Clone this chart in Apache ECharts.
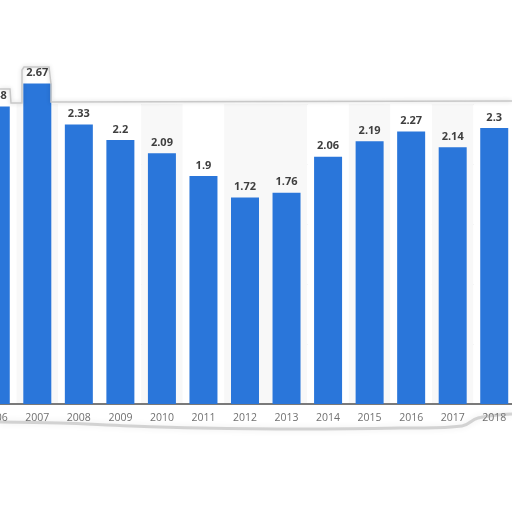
<!DOCTYPE html>
<html>
<head>
<meta charset="utf-8">
<script src="https://cdn.jsdelivr.net/npm/echarts@6/dist/echarts.min.js"></script>
<style>
html,body{margin:0;padding:0;background:#fff;overflow:hidden;width:512px;height:512px;position:relative;}
#chart{position:absolute;left:-25px;top:0;width:540px;height:512px;}
</style>
</head>
<body>
<div id="chart"></div>
<script>
const years = ['2006','2007','2008','2009','2010','2011','2012','2013','2014','2015','2016','2017','2018'];
const values = [2.48, 2.67, 2.33, 2.2, 2.09, 1.9, 1.72, 1.76, 2.06, 2.19, 2.27, 2.14, 2.3];
const yTicks = [0, 0.5, 1, 1.5, 2, 2.5];

const W = '#ffffff', S = '#f8f8f8';
const chart = echarts.init(document.getElementById('chart'));
const X0 = 25; // page offset of the chart container
chart.setOption({
  backgroundColor: '#ffffff',
  animation: false,
  grid: { left: 0, right: 0, top: 104, bottom: 108, containLabel: false },
  xAxis: {
    type: 'category',
    data: years,
    axisLine: { show: true, lineStyle: { color: '#7a7a7a', width: 2 } },
    axisTick: { show: false },
    axisLabel: { color: '#707070', fontSize: 10.5, fontFamily: 'Open Sans', margin: 9 },
    splitArea: { show: true, areaStyle: { color: [W, S, W, W, S, W, S, S, W, S, W, S, W] } }
  },
  yAxis: {
    type: 'value',
    min: yTicks[0],
    max: yTicks[yTicks.length - 1],
    interval: 0.5,
    axisLabel: { show: false },
    axisLine: { show: false },
    axisTick: { show: false },
    splitLine: { show: true, lineStyle: { color: '#dcdcdc', type: 'dotted', width: 1 } }
  },
  series: [{
    type: 'bar',
    data: values,
    barWidth: 28,
    clip: false,
    itemStyle: { color: '#2a76da' },
    label: {
      show: true,
      position: 'top',
      distance: 5,
      color: '#3f3f3f',
      fontWeight: 'bold',
      fontSize: 11,
      fontFamily: 'Open Sans'
    }
  }],
  graphic: [
    {
      type: 'polyline',
      silent: true,
      shape: { points: [[0,89],[10,89],[11,103],[22,103],[22,70],[24,67],[49,67],[51,84],[51,102],[512,101]].map(p => [p[0] + X0, p[1]]) },
      style: { stroke: '#c8c8c8', lineWidth: 1.5, fill: null, shadowBlur: 4, shadowColor: 'rgba(0,0,0,0.2)' },
      z: 100
    },
    {
      type: 'polyline',
      silent: true,
      shape: { smooth: 0.4, points: [[0,422],[60,423],[130,426],[200,428],[300,429],[400,428],[462,426],[478,418],[512,414]].map(p => [p[0] + X0, p[1]]) },
      style: { stroke: 'rgba(140,140,140,0.35)', lineWidth: 3, fill: null, shadowBlur: 6, shadowColor: 'rgba(0,0,0,0.25)' },
      z: 100
    }
  ]
});
</script>
</body>
</html>
